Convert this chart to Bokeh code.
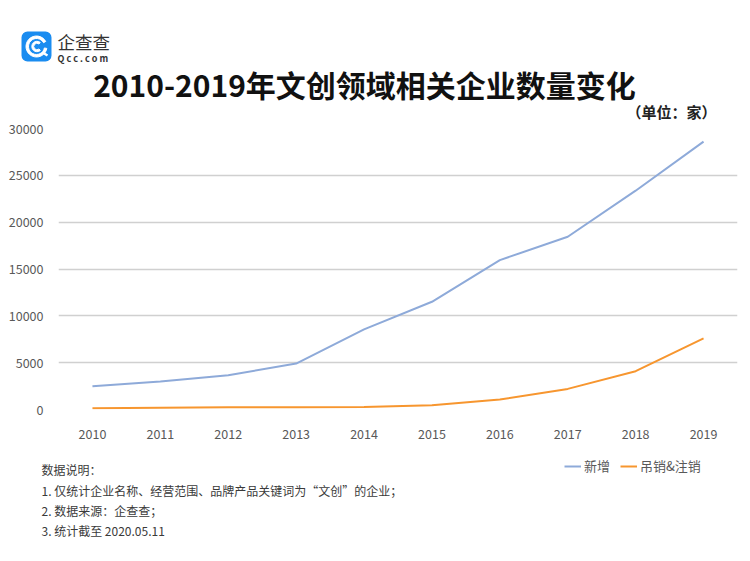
from bokeh.plotting import figure
from bokeh.models import (Range1d, FixedTicker, NumeralTickFormatter, Label, BoxAnnotation,
                          Legend, LegendItem, GridBox)
from bokeh.embed import file_html
from bokeh.resources import INLINE

years = [2010, 2011, 2012, 2013, 2014, 2015, 2016, 2017, 2018, 2019]
new_firms = [2490, 2990, 3660, 4900, 8550, 11500, 15950, 18440, 23360, 28600]
revoked = [140, 200, 230, 240, 260, 460, 1070, 2200, 4090, 7590]
y_ticks = [0, 5000, 10000, 15000, 20000, 25000, 30000]

title_text = "2010-2019年文创领域相关企业数量变化"
unit_text = "（单位：家）"
notes = ["数据说明：",
         "1. 仅统计企业名称、经营范围、品牌产品关键词为“文创”的企业；",
         "2. 数据来源：企查查；",
         "3. 统计截至 2020.05.11"]
series_names = ["新增", "吊销&注销"]
colors = ["#8eaad9", "#f7962f"]

FONT = "Noto Sans CJK SC"
W, H = 748, 559
FL, FT, FB, FR = 58, 128, 409, 737  # plot frame in canvas px

# ---------------- main chart ----------------
p = figure(width=W, height=H, output_backend="svg", toolbar_location=None,
           x_range=Range1d(2009.5, 2019.5), y_range=Range1d(0, 30000),
           min_border_left=FL, min_border_right=W - FR,
           min_border_top=FT, min_border_bottom=H - FB)
p.frame_align = False
p.outline_line_color = None
p.background_fill_color = "white"
p.border_fill_color = "white"

for ax in (p.xaxis[0], p.yaxis[0]):
    ax.axis_line_color = None
    ax.major_tick_line_color = None
    ax.minor_tick_line_color = None
    ax.major_tick_in = 0
    ax.major_tick_out = 0
    ax.major_label_text_font = FONT
    ax.major_label_text_font_size = "12.5px"
    ax.major_label_text_color = "#595959"
p.xaxis.ticker = FixedTicker(ticks=years)
p.xaxis.major_label_standoff = 19
p.yaxis.ticker = FixedTicker(ticks=y_ticks)
p.yaxis.formatter = NumeralTickFormatter(format="0")
p.yaxis.major_label_standoff = 15
p.xgrid.grid_line_color = None
p.ygrid.grid_line_color = "#d0d0d0"
p.ygrid.grid_line_width = 1.5

p.line(years, new_firms, line_color=colors[0], line_width=2)
p.line(years, revoked, line_color=colors[1], line_width=2)

# ---------------- transparent overlay for texts / legend / logo ----------------
o = figure(width=W, height=H, output_backend="svg", toolbar_location=None,
           x_range=Range1d(0, W), y_range=Range1d(H, 0),
           x_axis_location=None, y_axis_location=None, min_border=0)
o.frame_align = False
o.grid.grid_line_color = None
o.outline_line_color = None
o.background_fill_color = None
o.border_fill_color = None

# legend proxies (same series; they fall outside this overlay's pixel ranges)
l1 = o.line(years, new_firms, line_color=colors[0], line_width=2)
l2 = o.line(years, revoked, line_color=colors[1], line_width=2)
legend = Legend(items=[LegendItem(label=series_names[0], renderers=[l1]),
                       LegendItem(label=series_names[1], renderers=[l2])],
                orientation="horizontal", location=(564, H - 475),
                padding=0, margin=0, spacing=10, label_standoff=3,
                glyph_width=17, glyph_height=18, label_height=18,
                label_text_font=FONT, label_text_font_size="13px",
                label_text_color="#595959", background_fill_alpha=0,
                border_line_color=None)
o.add_layout(legend, "center")

o.add_layout(Label(x=364, y=83, text=title_text, text_font=FONT, text_font_size="30px",
                   text_font_style="bold", text_color="#111111",
                   text_align="center", text_baseline="middle"))
o.add_layout(Label(x=716, y=111, text=unit_text, text_font=FONT, text_font_size="15px",
                   text_font_style="bold", text_color="#222222",
                   text_align="right", text_baseline="middle"))

note_y = [469, 490, 510, 530]
for t, yy in zip(notes, note_y):
    o.add_layout(Label(x=41, y=yy, text=t, text_font=FONT, text_font_size="12px",
                       text_color="#3a3a3a", text_align="left",
                       text_baseline="middle"))

# logo (decoration)
o.add_layout(BoxAnnotation(left=21, right=51, top=31, bottom=61,
                           fill_color="#1a8cf0", fill_alpha=1, line_color=None,
                           border_radius=6, level="underlay"))
o.annular_wedge(x=[36], y=[46], inner_radius=8, outer_radius=10.5,
                start_angle=0.5, end_angle=6.1, color="white")
o.annular_wedge(x=[36.5], y=[46], inner_radius=3.2, outer_radius=5.2,
                start_angle=0.9, end_angle=5.4, color="white")
o.segment(x0=[42], y0=[52], x1=[47], y1=[55], line_color="white", line_width=2.5)
o.add_layout(Label(x=57, y=40.5, text="企查查", text_font=FONT, text_font_size="17.5px",
                   text_color="#333333", text_align="left", text_baseline="middle"))
o.add_layout(Label(x=57, y=58, text="Q c c . c o m", text_font=FONT, text_font_size="9px",
                   text_font_style="bold", text_color="#333333", text_align="left",
                   text_baseline="middle"))

layout = GridBox(children=[(p, 0, 0), (o, 0, 0)], spacing=0)
open("out.html", "w").write(file_html(layout, INLINE))
